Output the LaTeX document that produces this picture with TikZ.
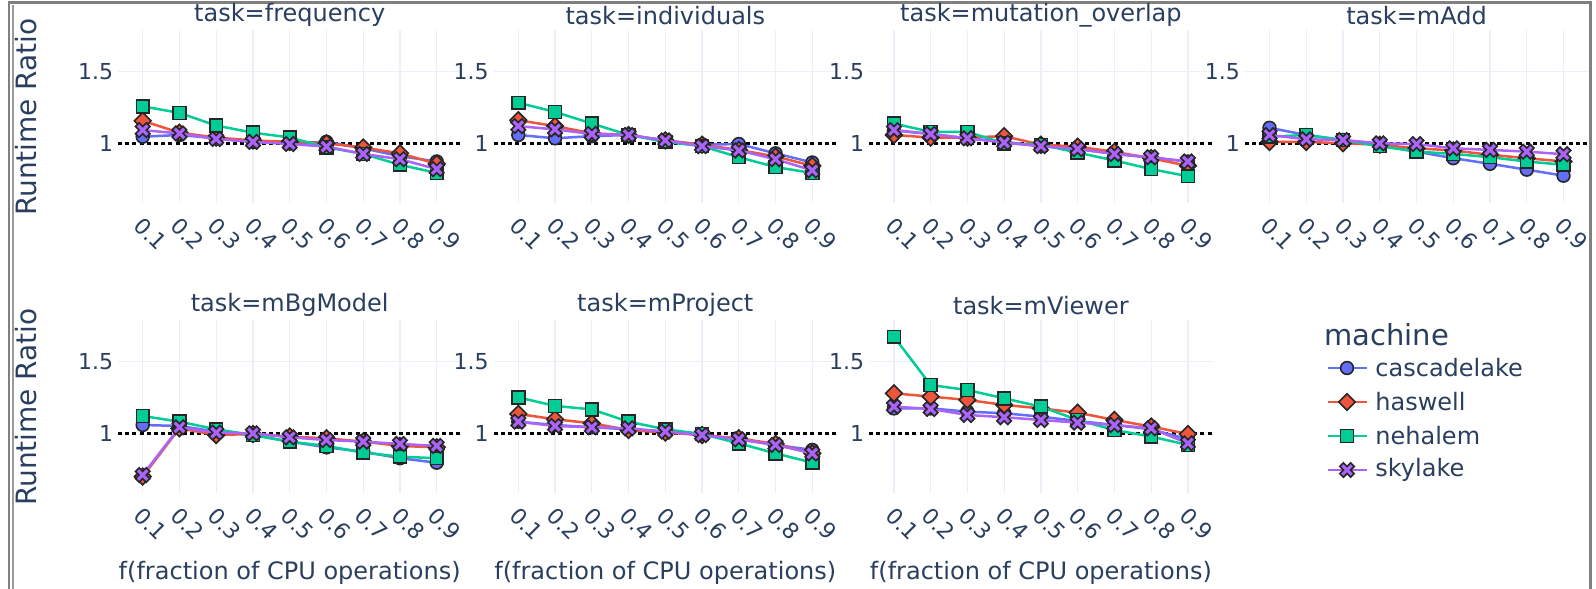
\documentclass[tikz,border=0pt]{standalone}
\usepackage{fontspec}
\setmainfont{DejaVu Sans}
\definecolor{txt}{HTML}{2A3F5F}
\definecolor{gridc}{HTML}{EBF0F8}
\definecolor{cblue}{HTML}{636EFA}
\definecolor{cred}{HTML}{EF553B}
\definecolor{cgreen}{HTML}{00CC96}
\definecolor{cpurple}{HTML}{AB63FA}
\definecolor{framec}{HTML}{808080}

% one marker per machine, drawn at a named coordinate
\newcommand\mkcirc[2]{\draw[mkline, fill=#2] (#1) circle[radius=6.4];}
\newcommand\mkdiam[2]{\draw[mkline, fill=#2, shift={(#1)}] (0,-8.3) -- (8.3,0) -- (0,8.3) -- (-8.3,0) -- cycle;}
\newcommand\mksq[2]{\draw[mkline, fill=#2, shift={(#1)}] (-6.4,-6.4) rectangle (6.4,6.4);}
\newcommand\mkx[2]{\draw[mkline, fill=#2, shift={(#1)}] (0,3.6) -- (3.6,7.2) -- (7.2,3.6) -- (3.6,0) -- (7.2,-3.6) -- (3.6,-7.2) -- (0,-3.6) -- (-3.6,-7.2) -- (-7.2,-3.6) -- (-3.6,0) -- (-7.2,3.6) -- (-3.6,7.2) -- cycle;}

% axes of one facet: #1 name, #2 x of the first tick, #3 y of ratio 1, #4 title
\newcommand\facet[4]{%
  \foreach \i in {0,...,8}
    \draw[gridln] ({#2+36.75*\i},{#3-113.3}) -- ({#2+36.75*\i},{#3+59.7});
  \draw[gridln] ({#2-24.7},{#3-71.6}) -- ({#2+319.3},{#3-71.6});
  \draw[refln] ({#2-24.7},#3) -- ({#2+319.3},#3);
  \node[ticklab, anchor=east] (#1-y15) at ({#2-29.3},{#3-71.6}) {1.5};
  \node[ticklab, anchor=east] (#1-y1) at ({#2-29.3},#3) {1};
  \foreach \t [count=\i from 0] in {0.1,0.2,0.3,0.4,0.5,0.6,0.7,0.8,0.9}
    \node[ticklab, rotate=-45, anchor=north west] (#1-x\i) at ({#2+36.75*\i+1.8},{#3+71.7}) {\t};
  \node[titlelab] (#1-title) at ({#2+147},{#3-128}) {#4};
}

% one machine's curve: #1 x of the first tick, #2 y of ratio 1, #3 colour, #4 marker, #5 ratios
\newcommand\plotseries[5]{%
  \foreach \v [count=\i from 0] in {#5}
    \coordinate (q\i) at ({#1+36.75*\i},{#2-143.3*(\v-1)});
  \draw[serline, #3] (q0) -- (q1) -- (q2) -- (q3) -- (q4) -- (q5) -- (q6) -- (q7) -- (q8);
  \foreach \i in {0,...,8}{#4{q\i}{#3}}
}

% the four machines of one facet
\newcommand\machines[6]{%
  \plotseries{#1}{#2}{cblue}{\mkcirc}{#3}
  \plotseries{#1}{#2}{cred}{\mkdiam}{#4}
  \plotseries{#1}{#2}{cgreen}{\mksq}{#5}
  \plotseries{#1}{#2}{cpurple}{\mkx}{#6}
}

\begin{document}
\begin{tikzpicture}[x=0.5pt,y=-0.5pt,
  gridln/.style={draw=gridc, line width=0.65pt},
  refln/.style={draw=black, line width=1.35pt, dash pattern=on 2pt off 1.6pt},
  serline/.style={line width=1.25pt, line join=round},
  mkline/.style={draw=black!85, line width=0.8pt},
  ticklab/.style={text=txt, inner sep=0pt, font=\fontsize{11}{13}\selectfont},
  titlelab/.style={text=txt, inner sep=0pt, font=\fontsize{12}{14}\selectfont},
  axlab/.style={text=txt, inner sep=0pt, font=\fontsize{14}{16}\selectfont},
  xlab/.style={text=txt, inner sep=0pt, font=\fontsize{12}{14}\selectfont},
  leglab/.style={text=txt, inner sep=0pt, anchor=west, font=\fontsize{12}{14}\selectfont},
]
\useasboundingbox (0,0) rectangle (1596,589);
\fill[white] (0,0) rectangle (1596,589);

% page frame
\draw[framec, line width=1.3pt] (9,589) -- (9,2.5) -- (1590.5,2.5) -- (1590.5,589);
\draw[framec!80, line width=0.8pt] (13,5) -- (13,589);

% facets
\facet{fa}{142.7}{143.3}{task=frequency}
\facet{fb}{518.3}{143.3}{task=individuals}
\facet{fc}{893.9}{143.3}{task=mutation\_overlap}
\facet{fd}{1269.5}{143.3}{task=mAdd}
\facet{fe}{142.7}{433.3}{task=mBgModel}
\facet{ff}{518.3}{433.3}{task=mProject}
\facet{fg}{893.9}{433.3}{task=mViewer}

\machines{142.7}{143.3}
  {1.046,1.058,1.035,1.01,1.0,1.01,0.965,0.91,0.873}
  {1.157,1.074,1.04,1.02,1.01,1.0,0.97,0.93,0.857}
  {1.258,1.212,1.124,1.074,1.041,0.972,0.926,0.85,0.793}
  {1.092,1.069,1.03,1.01,0.995,0.977,0.926,0.889,0.82}
\machines{518.3}{143.3}
  {1.058,1.035,1.05,1.058,1.02,0.99,0.995,0.93,0.866}
  {1.161,1.12,1.07,1.058,1.02,0.99,0.954,0.908,0.843}
  {1.283,1.219,1.138,1.058,1.01,0.98,0.903,0.834,0.793}
  {1.12,1.097,1.065,1.058,1.02,0.98,0.95,0.889,0.811}
\machines{893.9}{143.3}
  {1.09,1.065,1.035,1.01,0.98,0.96,0.926,0.9,0.873}
  {1.058,1.04,1.04,1.05,0.99,0.977,0.94,0.896,0.843}
  {1.138,1.08,1.08,1.0,0.99,0.935,0.88,0.82,0.77}
  {1.092,1.065,1.035,1.005,0.98,0.96,0.926,0.903,0.873}
\machines{1269.5}{143.3}
  {1.108,1.058,1.023,0.988,0.942,0.896,0.857,0.816,0.774}
  {1.01,1.01,1.0,0.99,0.965,0.95,0.92,0.896,0.873}
  {1.046,1.058,1.023,0.98,0.942,0.926,0.903,0.873,0.85}
  {1.058,1.028,1.023,1.0,0.995,0.965,0.954,0.942,0.924}
\machines{142.7}{433.3}
  {1.058,1.051,1.012,0.988,0.942,0.902,0.872,0.826,0.795}
  {0.698,1.035,0.988,0.995,0.977,0.965,0.942,0.912,0.902}
  {1.121,1.081,1.028,0.988,0.942,0.912,0.865,0.837,0.826}
  {0.709,1.042,1.005,1.0,0.972,0.953,0.942,0.926,0.912}
\machines{518.3}{433.3}
  {1.081,1.058,1.042,1.028,1.012,0.988,0.958,0.919,0.884}
  {1.135,1.098,1.07,1.023,1.005,0.988,0.965,0.926,0.86}
  {1.251,1.191,1.167,1.081,1.028,0.995,0.93,0.86,0.795}
  {1.081,1.051,1.042,1.035,1.012,0.988,0.958,0.919,0.86}
\machines{893.9}{433.3}
  {1.174,1.174,1.151,1.14,1.116,1.086,1.058,1.028,0.958}
  {1.279,1.256,1.233,1.198,1.174,1.144,1.093,1.047,0.995}
  {1.674,1.337,1.302,1.244,1.186,1.093,1.023,0.977,0.919}
  {1.186,1.17,1.128,1.112,1.093,1.074,1.058,1.035,0.93}

% axis titles
\node[axlab, rotate=90] (ylab1) at (26,117) {Runtime Ratio};
\node[axlab, rotate=90] (ylab2) at (26,407) {Runtime Ratio};
\node[xlab] (xlab1) at (289.7,573) {f(fraction of CPU operations)};
\node[xlab] (xlab2) at (665.3,573) {f(fraction of CPU operations)};
\node[xlab] (xlab3) at (1040.9,573) {f(fraction of CPU operations)};

% legend
\node[leglab, font=\fontsize{14.5}{16}\selectfont] (legtitle) at (1324,335) {machine};
\foreach \n/\c/\m/\y in {cascadelake/cblue/\mkcirc/368, haswell/cred/\mkdiam/402, nehalem/cgreen/\mksq/436, skylake/cpurple/\mkx/470}{
  \coordinate (lg-\n) at (1347,\y);
  \draw[serline, \c] (1328,\y) -- (1367,\y);
  \m{lg-\n}{\c}
  \node[leglab] (leg-\n) at (1375,\y) {\n};
}
\end{tikzpicture}
\end{document}
